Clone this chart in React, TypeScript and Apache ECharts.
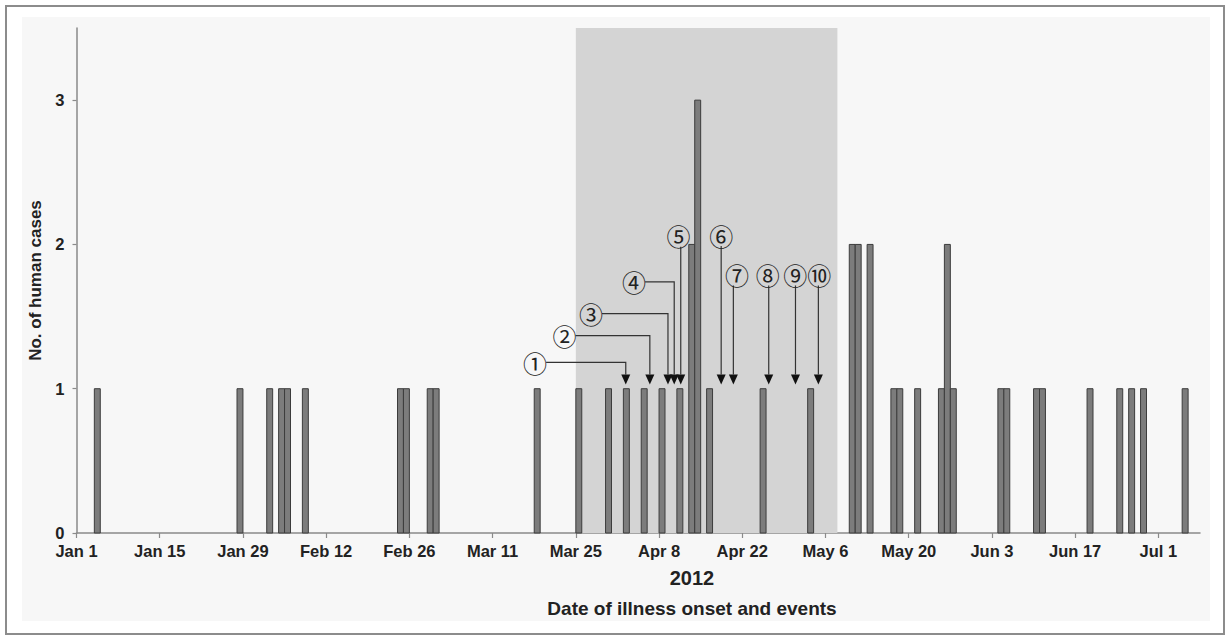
import React, { useEffect, useRef } from "react";
import * as echarts from "echarts";

// ---- data ----
const tickLabels = ["Jan 1", "Jan 15", "Jan 29", "Feb 12", "Feb 26", "Mar 11", "Mar 25", "Apr 8", "Apr 22", "May 6", "May 20", "Jun 3", "Jun 17", "Jul 1"];
const tickDays = [0, 14, 28, 42, 56, 70, 84, 98, 112, 126, 140, 154, 168, 182];

const onsetDates = [
  "2012-01-04", "2012-01-28", "2012-02-02", "2012-02-04", "2012-02-05", "2012-02-08",
  "2012-02-24", "2012-02-25", "2012-02-29", "2012-03-01", "2012-03-18", "2012-03-25",
  "2012-03-30", "2012-04-02", "2012-04-05", "2012-04-08", "2012-04-11", "2012-04-13",
  "2012-04-14", "2012-04-16", "2012-04-25", "2012-05-03", "2012-05-10", "2012-05-11",
  "2012-05-13", "2012-05-17", "2012-05-18", "2012-05-21", "2012-05-25", "2012-05-26",
  "2012-05-27", "2012-06-04", "2012-06-05", "2012-06-10", "2012-06-11", "2012-06-19",
  "2012-06-24", "2012-06-26", "2012-06-28", "2012-07-05",
];
const caseCounts = [
  1, 1, 1, 1, 1, 1,
  1, 1, 1, 1, 1, 1,
  1, 1, 1, 1, 1, 2,
  3, 1, 1, 1, 2, 2,
  2, 1, 1, 1, 1, 2,
  1, 1, 1, 1, 1, 1,
  1, 1, 1, 1,
];

const shadeStart = "2012-03-25";
const shadeEnd = "2012-05-08";

const eventLabels = ["①", "②", "③", "④", "⑤", "⑥", "⑦", "⑧", "⑨", "⑩"];
const eventDays = [92.4, 96.45, 99.5, 100.55, 101.65, 108.45, 110.5, 116.45, 120.95, 124.8];
const eventLabelDays = [77.15, 82.1, 86.55, 93.8, 101.25, 108.45, 111.1, 116.3, 120.9, 124.95];
const eventLabelValues = [1.183, 1.368, 1.521, 1.741, 2.06, 2.065, 1.792, 1.792, 1.792, 1.792];
const eventElbow = [1, 1, 1, 1, 0, 0, 0, 0, 0, 0];
const arrowTipValue = 1.03;

const yMax = 3.5;
const xMax = 189;

function dayOf(s: string): number {
  const [y, m, d] = s.split("-").map(Number);
  return Math.round((Date.UTC(y, m - 1, d) - Date.UTC(2012, 0, 1)) / 86400000);
}

const FONT = "'Liberation Sans', Arial, sans-serif";

export default function App() {
  const ref = useRef<HTMLDivElement>(null);
  useEffect(() => {
    if (!ref.current) return;
    const chart = echarts.init(ref.current, undefined, { renderer: "svg" });

    const barData = onsetDates.map((d, i) => [dayOf(d), caseCounts[i]]);
    const eventData = eventDays.map((d, i) => [d, eventLabelDays[i], eventLabelValues[i], eventElbow[i]]);

    const option: any = {
      animation: false,
      backgroundColor: "#ffffff",
      graphic: [
        {
          type: "rect",
          z: -10,
          silent: true,
          shape: { x: 6, y: 6, width: 1218, height: 628 },
          style: { fill: "#ffffff", stroke: "#8c8c8c", lineWidth: 2 },
        },
        {
          type: "rect",
          z: -9,
          silent: true,
          shape: { x: 22, y: 17, width: 1188, height: 604 },
          style: { fill: "#f7f7f7" },
        },
        {
          type: "text",
          x: 692,
          y: 578,
          style: { text: "2012", fontSize: 20, fontWeight: "bold", fontFamily: FONT, fill: "#222", align: "center", verticalAlign: "middle" },
        },
        {
          type: "text",
          x: 692,
          y: 608,
          style: { text: "Date of illness onset and events", fontSize: 19, fontWeight: "bold", fontFamily: FONT, fill: "#222", align: "center", verticalAlign: "middle" },
        },
      ],
      grid: { left: 76.5, right: 28, top: 28, bottom: 107 },
      xAxis: {
        type: "value",
        min: 0,
        max: xMax,
        splitLine: { show: false },
        axisLine: { show: true, lineStyle: { color: "#8a8a8a", width: 1.5 } },
        axisTick: { show: true, length: 5, lineStyle: { color: "#8a8a8a", width: 1.2 }, customValues: tickDays },
        axisLabel: {
          customValues: tickDays,
          margin: 9,
          fontSize: 16.5,
          fontWeight: "bold",
          fontFamily: FONT,
          color: "#222",
          formatter: (v: number) => {
            const i = tickDays.indexOf(Math.round(v));
            return i >= 0 ? tickLabels[i] : "";
          },
        },
      },
      yAxis: {
        type: "value",
        min: 0,
        max: yMax,
        name: "No. of human cases",
        nameLocation: "middle",
        nameRotate: 90,
        nameGap: 27,
        nameTextStyle: { fontSize: 17, fontWeight: "bold", fontFamily: FONT, color: "#222" },
        splitLine: { show: false },
        axisLine: { show: true, lineStyle: { color: "#8a8a8a", width: 1.5 } },
        axisTick: { show: true, length: 4, lineStyle: { color: "#8a8a8a", width: 1.2 }, customValues: [0, 1, 2, 3] },
        axisLabel: {
          customValues: [0, 1, 2, 3],
          margin: 12,
          fontSize: 16.5,
          fontWeight: "bold",
          fontFamily: FONT,
          color: "#222",
        },
      },
      series: [
        {
          type: "custom",
          name: "shade",
          z: 1,
          silent: true,
          data: [[dayOf(shadeStart), dayOf(shadeEnd)]],
          encode: { x: [0, 1] },
          renderItem: (params: any, api: any) => {
            const p0 = api.coord([api.value(0), 0]);
            const p1 = api.coord([api.value(1), yMax]);
            return {
              type: "rect",
              shape: { x: p0[0], y: p1[1], width: p1[0] - p0[0], height: p0[1] - p1[1] },
              style: { fill: "#d4d4d4" },
            };
          },
        },
        {
          type: "custom",
          name: "cases",
          z: 3,
          data: barData,
          encode: { x: 0, y: 1 },
          renderItem: (params: any, api: any) => {
            const d = api.value(0);
            const v = api.value(1);
            const p0 = api.coord([d, 0]);
            const p1 = api.coord([d + 1, v]);
            return {
              type: "rect",
              shape: { x: p0[0], y: p1[1], width: p1[0] - p0[0], height: p0[1] - p1[1] },
              style: { fill: "#7c7c7c", stroke: "#3c3c3c", lineWidth: 1 },
            };
          },
        },
        {
          type: "custom",
          name: "events",
          z: 4,
          silent: true,
          clip: false,
          data: eventData,
          encode: { x: 0 },
          renderItem: (params: any, api: any) => {
            const idx = params.dataIndex;
            const ax = api.value(0);
            const lx = api.value(1);
            const ly = api.value(2);
            const elbow = api.value(3);
            const tip = api.coord([ax, arrowTipValue]);
            const lab = api.coord([lx, ly]);
            const r = 11;
            const headH = 10;
            const headW = 4.5;
            const pts = elbow
              ? [[lab[0] + r, lab[1]], [tip[0], lab[1]], [tip[0], tip[1] - headH]]
              : [[tip[0], lab[1] + r], [tip[0], tip[1] - headH]];
            return {
              type: "group",
              children: [
                { type: "polyline", shape: { points: pts }, style: { stroke: "#333", lineWidth: 1.2, fill: null } },
                {
                  type: "polygon",
                  shape: { points: [[tip[0] - headW, tip[1] - headH], [tip[0] + headW, tip[1] - headH], [tip[0], tip[1]]] },
                  style: { fill: "#111" },
                },
                {
                  type: "text",
                  x: lab[0],
                  y: lab[1],
                  style: {
                    text: eventLabels[idx],
                    fontSize: 24,
                    fontFamily: "'Noto Sans CJK JP', 'DejaVu Sans', sans-serif",
                    fill: "#222",
                    align: "center",
                    verticalAlign: "middle",
                  },
                },
              ],
            };
          },
        },
      ],
    };
    chart.setOption(option);
    return () => chart.dispose();
  }, []);
  return <div ref={ref} style={{ position: "absolute", left: 0, top: 0, width: 1228, height: 640 }} />;
}
